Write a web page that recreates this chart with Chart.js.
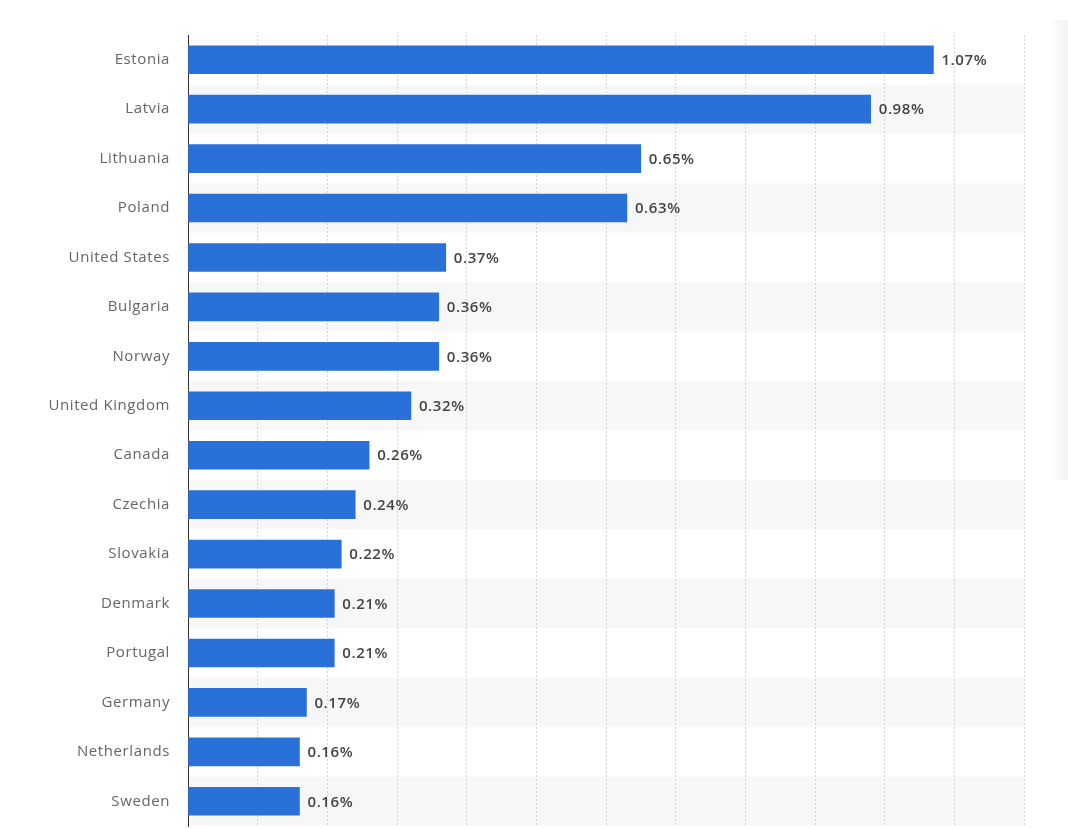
<!DOCTYPE html>
<html>
<head>
<meta charset="utf-8">
<script src="https://cdn.jsdelivr.net/npm/chart.js@4"></script>
<style>
    html, body { margin: 0; padding: 0; background: #fff; }
    #wrap { position: relative; width: 1068px; height: 829px; }
    #edge { position: absolute; top: 20px; right: 0; width: 16px; height: 460px;
            background: linear-gradient(to right, #fcfcfd, #f2f3f5); }
</style>
</head>
<body>
<div id="wrap">
    <div id="edge"></div>
    <canvas id="barChart" width="1068" height="829"></canvas>
</div>
<script>
const countries = ["Estonia", "Latvia", "Lithuania", "Poland", "United States", "Bulgaria", "Norway",
    "United Kingdom", "Canada", "Czechia", "Slovakia", "Denmark", "Portugal", "Germany", "Netherlands", "Sweden"];
const shares = [1.07, 0.98, 0.65, 0.63, 0.37, 0.36, 0.36, 0.32, 0.26, 0.24, 0.22, 0.21, 0.21, 0.17, 0.16, 0.16];
const xTicks = [0, 0.1, 0.2, 0.3, 0.4, 0.5, 0.6, 0.7, 0.8, 0.9, 1.0, 1.1, 1.2];

// light grey band behind every second row
const stripes = {
    id: 'stripes',
    beforeDraw(chart) {
        const { ctx, chartArea, scales: { y } } = chart;
        const step = y.getPixelForValue(1) - y.getPixelForValue(0);
        ctx.save();
        ctx.fillStyle = '#f7f7f7';
        countries.forEach((c, i) => {
            if (i % 2 === 1) {
                const mid = y.getPixelForValue(i);
                ctx.fillRect(chartArea.left, mid - step / 2, chartArea.right - chartArea.left, step);
            }
        });
        ctx.restore();
        ctx.letterSpacing = '0.6px';
    }
};

// percentage labels at the end of each bar
const valueLabels = {
    id: 'valueLabels',
    afterDatasetsDraw(chart) {
        const { ctx } = chart;
        const meta = chart.getDatasetMeta(0);
        ctx.save();
        ctx.font = '600 15px "Open Sans"';
        ctx.fillStyle = '#444';
        ctx.textAlign = 'left';
        ctx.textBaseline = 'middle';
        ctx.letterSpacing = '0.6px';
        meta.data.forEach((bar, i) => {
            ctx.fillText(shares[i].toFixed(2) + '%', bar.x + 8, bar.y + 1);
        });
        ctx.restore();
    }
};

new Chart(document.getElementById('barChart'), {
    type: 'bar',
    data: {
        labels: countries,
        datasets: [{
            data: shares,
            backgroundColor: '#2a70d9',
            barThickness: 28
        }]
    },
    options: {
        indexAxis: 'y',
        responsive: false,
        animation: false,
        layout: { padding: { top: 35, right: 44, bottom: 3, left: 0 } },
        plugins: { legend: { display: false }, tooltip: { enabled: false } },
        scales: {
            x: {
                min: 0,
                max: 1.2,
                afterBuildTicks: axis => { axis.ticks = xTicks.map(v => ({ value: v })); },
                afterFit: axis => { axis.height = 0; },
                ticks: { display: false, padding: 0 },
                grid: { color: '#d4d4d4', drawTicks: false },
                border: { display: false, dash: [2, 2] }
            },
            y: {
                afterFit: axis => {
                    axis.width = 188;
                    axis.paddingTop = 0;
                    axis.paddingBottom = 0;
                },
                ticks: {
                    padding: 18,
                    color: '#666',
                    font: { family: '"Open Sans"', size: 15 }
                },
                grid: { display: false, drawTicks: false },
                border: { display: true, color: '#333', width: 1 }
            }
        }
    },
    plugins: [stripes, valueLabels]
});
</script>
</body>
</html>
